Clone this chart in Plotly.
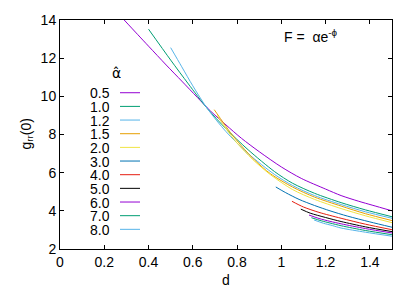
import plotly.graph_objects as go

# ---- data ----
alphas = ["0.5", "1.0", "1.2", "1.5", "2.0", "3.0", "4.0", "5.0", "6.0", "7.0", "8.0"]
colors = ["#9400d3", "#009e73", "#56b4e9", "#e69f00", "#f0e442", "#0072b2",
          "#e51e10", "#000000", "#9400d3", "#009e73", "#56b4e9"]

d_05 = [0.29, 0.35, 0.40, 0.48, 0.55, 0.62, 0.68, 0.75, 0.82, 0.90, 1.00, 1.09, 1.20, 1.27, 1.35, 1.41, 1.50]
g_05 = [14.0, 13.25, 12.63, 11.64, 10.8, 9.95, 9.23, 8.5, 7.8, 7.1, 6.3, 5.7, 5.14, 4.8, 4.5, 4.3, 4.0]
d_10 = [0.40, 0.50, 0.58, 0.665, 0.75, 0.85, 0.97, 1.05, 1.15, 1.27, 1.38, 1.50]
g_10 = [13.52, 11.9, 10.65, 9.37, 8.3, 7.2, 6.05, 5.45, 4.92, 4.43, 4.05, 3.69]
d_12 = [0.50, 0.55, 0.60, 0.665, 0.75, 0.85, 0.97, 1.05, 1.15, 1.27, 1.38, 1.50]
g_12 = [12.55, 11.55, 10.55, 9.37, 8.15, 7.0, 5.9, 5.33, 4.8, 4.33, 3.95, 3.61]
d_15 = [0.697, 0.73, 0.77, 0.82, 0.88, 0.95, 1.05, 1.15, 1.27, 1.38, 1.50]
g_15 = [9.30, 8.75, 8.1, 7.4, 6.65, 5.95, 5.25, 4.72, 4.25, 3.85, 3.49]
d_20 = [0.71, 0.75, 0.80, 0.87, 0.95, 1.05, 1.15, 1.27, 1.38, 1.50]
g_20 = [9.0, 8.3, 7.55, 6.7, 5.9, 5.12, 4.6, 4.12, 3.74, 3.38]
d_30 = [0.975, 1.02, 1.08, 1.15, 1.22, 1.30, 1.40, 1.50]
g_30 = [5.25, 4.95, 4.6, 4.28, 4.0, 3.72, 3.42, 3.14]
d_40 = [1.048, 1.10, 1.17, 1.27, 1.38, 1.50]
g_40 = [4.50, 4.2, 3.92, 3.61, 3.3, 3.01]
d_50 = [1.088, 1.13, 1.20, 1.27, 1.38, 1.50]
g_50 = [4.09, 3.88, 3.65, 3.44, 3.16, 2.91]
d_60 = [1.125, 1.17, 1.22, 1.27, 1.38, 1.50]
g_60 = [3.78, 3.6, 3.45, 3.32, 3.07, 2.84]
d_70 = [1.136, 1.18, 1.22, 1.27, 1.38, 1.50]
g_70 = [3.64, 3.48, 3.36, 3.22, 2.97, 2.75]
d_80 = [1.148, 1.19, 1.23, 1.27, 1.38, 1.50]
g_80 = [3.52, 3.35, 3.23, 3.1, 2.88, 2.67]

series_d = [d_05, d_10, d_12, d_15, d_20, d_30, d_40, d_50, d_60, d_70, d_80]
series_g = [g_05, g_10, g_12, g_15, g_20, g_30, g_40, g_50, g_60, g_70, g_80]

x_ticks = [0, 0.2, 0.4, 0.6, 0.8, 1.0, 1.2, 1.4]
x_tick_text = ["0", "0.2", "0.4", "0.6", "0.8", "1", "1.2", "1.4"]
y_ticks = [2, 4, 6, 8, 10, 12, 14]

# ---- layout constants (pixels) ----
W, H = 417, 292
ML, MR, MT, MB = 60, 25, 16, 43
PW, PH = W - ML - MR, H - MT - MB
FONT = "Liberation Sans, Arial, sans-serif"

fig = go.Figure()
for dd, gg, col in zip(series_d, series_g, colors):
    fig.add_trace(go.Scatter(x=dd, y=gg, mode="lines",
                             line=dict(color=col, width=1, shape="spline", smoothing=0.8),
                             showlegend=False, hoverinfo="skip"))

def px_x(p):
    return (p - ML) / PW

def px_y(p):
    return (H - MB - p) / PH

annotations = []
shapes = []
# legend (gnuplot style: label, then line sample)
annotations.append(dict(text="α̂", x=px_x(116), y=px_y(70), xref="paper", yref="paper",
                        showarrow=False, xanchor="center", yanchor="middle", height=16,
                        font=dict(size=14, family="DejaVu Sans, sans-serif", color="black")))
row0, step = 90, 13.9
for i, (lab, col) in enumerate(zip(alphas, colors)):
    yy = px_y(row0 + i * step)
    annotations.append(dict(text=lab, x=px_x(112), y=yy, xref="paper", yref="paper",
                            showarrow=False, xanchor="right", yanchor="middle", height=13,
                            font=dict(size=14, family=FONT, color="black")))
    shapes.append(dict(type="line", xref="paper", yref="paper",
                       x0=px_x(120), x1=px_x(140), y0=yy, y1=yy,
                       line=dict(color=col, width=1)))

annotations.append(dict(text="F =  αe<sup>-ϕ</sup>", x=px_x(282), y=px_y(32),
                        xref="paper", yref="paper", showarrow=False,
                        xanchor="left", yanchor="middle",
                        font=dict(size=14, family=FONT, color="black")))
# axis titles
annotations.append(dict(text="g<sub>rr</sub>(0)", x=px_x(26), y=0.5, textangle=-90,
                        xref="paper", yref="paper", showarrow=False,
                        xanchor="center", yanchor="middle",
                        font=dict(size=14, family=FONT, color="black")))
annotations.append(dict(text="d", x=0.5, y=px_y(280),
                        xref="paper", yref="paper", showarrow=False,
                        xanchor="center", yanchor="middle", height=15,
                        font=dict(size=14, family=FONT, color="black")))

fig.update_layout(
    width=W, height=H,
    margin=dict(l=ML, r=MR, t=MT, b=MB),
    paper_bgcolor="white", plot_bgcolor="white",
    font=dict(family=FONT, size=14, color="black"),
    annotations=annotations, shapes=shapes,
    xaxis=dict(range=[0, 1.5], tickvals=x_ticks, ticktext=x_tick_text,
               ticks="inside", ticklen=4, tickcolor="black", mirror="ticks",
               showline=True, linecolor="black", linewidth=1, showgrid=False, zeroline=False),
    yaxis=dict(range=[2, 14], tickvals=y_ticks,
               ticks="inside", ticklen=4, tickcolor="black", mirror="ticks",
               showline=True, linecolor="black", linewidth=1, showgrid=False, zeroline=False),
)

fig.write_html("out.html", config={"displayModeBar": False, "staticPlot": True},
               post_script="document.body.style.margin='0px';")
